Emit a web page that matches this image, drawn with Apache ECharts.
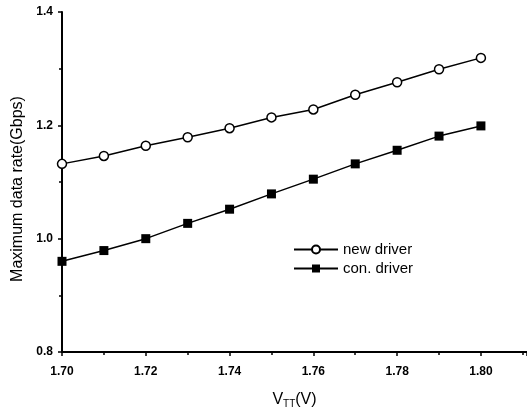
<!DOCTYPE html>
<html>
<head>
<meta charset="utf-8">
<script src="https://cdn.jsdelivr.net/npm/echarts@6/dist/echarts.min.js"></script>
<style>
  html, body { margin: 0; padding: 0; background: #fff; }
  #chart { width: 527px; height: 411px; }
</style>
</head>
<body>
<div id="chart"></div>
<script>
const vtt = [1.70, 1.71, 1.72, 1.73, 1.74, 1.75, 1.76, 1.77, 1.78, 1.79, 1.80]
const newDriver = [1.132, 1.146, 1.164, 1.179, 1.195, 1.214, 1.228, 1.254, 1.276, 1.299, 1.319]
const conDriver = [0.960, 0.979, 1.000, 1.027, 1.052, 1.079, 1.105, 1.132, 1.156, 1.181, 1.199]

const font = '"Liberation Sans", Arial, sans-serif'
const chart = echarts.init(document.getElementById('chart'))

const pairs = (ys) => vtt.map((x, i) => [x, ys[i]])

chart.setOption({
  animation: false,
  backgroundColor: '#fff',
  grid: {
    left: 62,
    top: 12,
    right: 0,
    bottom: 59,
    containLabel: false,
    outerBoundsMode: 'none',
  },
  legend: {
    orient: 'vertical',
    left: 288,
    top: 237,
    itemWidth: 44,
    itemHeight: 10,
    itemGap: 4,
    textStyle: {
      fontFamily: font,
      fontSize: 15,
      color: '#000',
    },
    data: ['new driver', 'con. driver'],
  },
  xAxis: {
    type: 'value',
    min: 1.70,
    max: 1.811,
    interval: 0.02,
    axisLine: { lineStyle: { color: '#000', width: 2 } },
    axisTick: { inside: false, length: 4, lineStyle: { color: '#000', width: 1.5 } },
    minorTick: { show: true, splitNumber: 2, length: 3, lineStyle: { color: '#000', width: 1.5 } },
    splitLine: { show: false },
    axisLabel: {
      showMaxLabel: false,
      fontFamily: font,
      fontSize: 12,
      fontWeight: 'bold',
      color: '#000',
      margin: 14,
      formatter: (v) => v.toFixed(2),
    },
    name: 'V{sub|TT}(V)',
    nameLocation: 'middle',
    nameGap: 38,
    nameTextStyle: {
      fontFamily: font,
      fontSize: 16,
      color: '#000',
      rich: {
        sub: { fontFamily: font, fontSize: 10, verticalAlign: 'bottom', padding: [9, 0, 0, 0], color: '#000' },
      },
    },
  },
  yAxis: {
    type: 'value',
    min: 0.8,
    max: 1.4,
    interval: 0.2,
    axisLine: { show: true, lineStyle: { color: '#000', width: 2 } },
    axisTick: { show: true, length: 4, lineStyle: { color: '#000', width: 1.5 } },
    minorTick: { show: true, splitNumber: 2, length: 3, lineStyle: { color: '#000', width: 1.5 } },
    splitLine: { show: false },
    axisLabel: {
      fontFamily: font,
      fontSize: 12,
      fontWeight: 'bold',
      color: '#000',
      margin: 9,
      formatter: (v) => v.toFixed(1),
    },
    name: 'Maximum data rate(Gbps)',
    nameLocation: 'middle',
    nameGap: 30,
    nameTextStyle: {
      fontFamily: font,
      fontSize: 16,
      color: '#000',
      padding: [0, 14, 0, 0],
    },
  },
  series: [
    {
      name: 'new driver',
      type: 'line',
      data: pairs(newDriver),
      symbol: 'circle',
      symbolSize: 9,
      lineStyle: { color: '#000', width: 1.5 },
      itemStyle: { color: '#fff', borderColor: '#000', borderWidth: 1.5 },
    },
    {
      name: 'con. driver',
      type: 'line',
      data: pairs(conDriver),
      symbol: 'rect',
      symbolSize: 9,
      lineStyle: { color: '#000', width: 1.5 },
      itemStyle: { color: '#000', borderColor: '#000', borderWidth: 0 },
    },
  ],
})
</script>
</body>
</html>
